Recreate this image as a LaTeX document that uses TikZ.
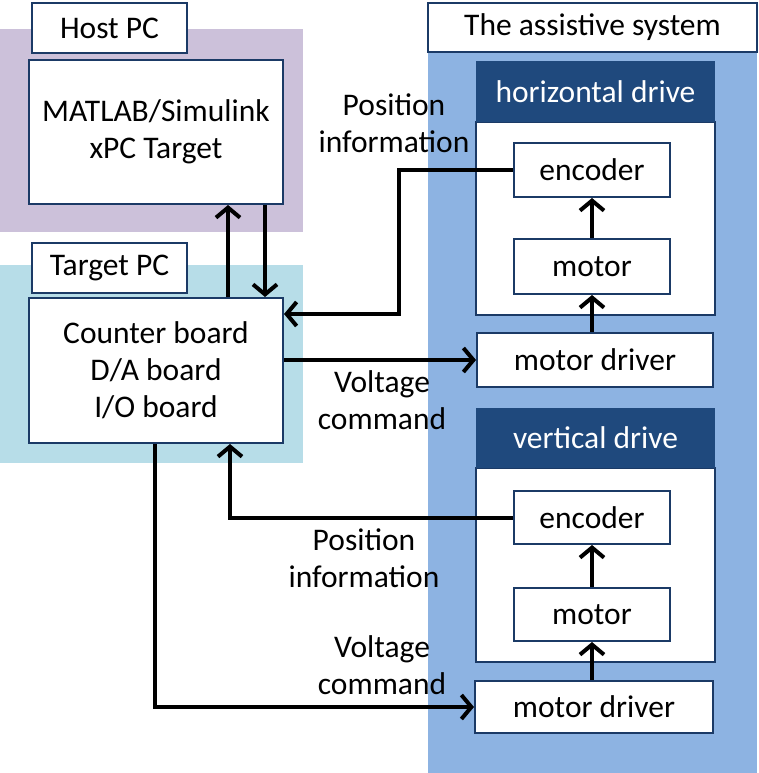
\documentclass[tikz,border=0pt]{standalone}
\usepackage{fontspec}
\setmainfont{Carlito}
\usetikzlibrary{arrows.meta}
\definecolor{lav}{HTML}{CCC1DA}
\definecolor{cyanbg}{HTML}{B7DDE8}
\definecolor{bluebg}{HTML}{8DB3E2}
\definecolor{navy}{HTML}{1F497D}
\definecolor{edge}{HTML}{1B3A66}
\begin{document}
\begin{tikzpicture}[x=1pt,y=-1pt,
  box/.style={draw=edge,line width=2pt,fill=white,inner sep=0pt,align=center,font=\fontsize{31.5}{37}\selectfont},
  hdr/.style={fill=navy,inner sep=0pt,text=white,font=\fontsize{31.5}{37}\selectfont},
  lbl/.style={align=center,inner sep=0pt,font=\fontsize{31.5}{37}\selectfont},
  arr/.style={line width=4pt,-{Straight Barb[length=10pt,width=24pt]}},
  ln/.style={line width=4pt}]
\useasboundingbox (0,0) rectangle (759,773);
% regions
\fill[lav] (0,29) rectangle (303,232);
\fill[cyanbg] (0,265) rectangle (303,463);
\fill[bluebg] (428,52) rectangle (757,773);
% left side
\node[box,minimum width=155pt,minimum height=50pt] (hostlbl) at (109.5,28) {Host PC};
\node[box,minimum width=254pt,minimum height=144pt] (matlab) at (156,132) {MATLAB/Simulink\\xPC Target};
\node[box,minimum width=155pt,minimum height=50pt] (targetlbl) at (109.5,268) {Target PC};
\node[box,minimum width=254pt,minimum height=145pt] (counter) at (156,370.5) {Counter board\\D/A board\\I/O board};
% assistive system
\node[box,minimum width=329pt,minimum height=49pt] (asslbl) at (592.5,27.5) {The assistive system};
% horizontal drive
\node[box,minimum width=239pt,minimum height=193pt] (hbody) at (595.5,218.5) {};
\node[hdr,minimum width=239pt,minimum height=61pt] (hhdr) at (595.5,91.5) {horizontal drive};
\node[box,minimum width=156pt,minimum height=54pt] (henc) at (592,170) {encoder};
\node[box,minimum width=156pt,minimum height=55pt] (hmot) at (592,266.5) {motor};
\node[box,minimum width=236pt,minimum height=54pt] (hmd) at (595,360) {motor driver};
% vertical drive
\node[box,minimum width=239pt,minimum height=194pt] (vbody) at (595.5,565) {};
\node[hdr,minimum width=239pt,minimum height=60pt] (vhdr) at (595.5,438) {vertical drive};
\node[box,minimum width=156pt,minimum height=53pt] (venc) at (592,517.5) {encoder};
\node[box,minimum width=156pt,minimum height=53pt] (vmot) at (592,614.5) {motor};
\node[box,minimum width=238pt,minimum height=52pt] (vmd) at (594,707) {motor driver};
% labels
\node[lbl] (pos1) at (394,123) {Position\\information};
\node[lbl] (volt1) at (382,400) {Voltage\\command};
\node[lbl] (pos2) at (364,558) {Position\\information};
\node[lbl] (volt2) at (382,665) {Voltage\\command};
% connectors
\coordinate (c1) at (399,314);
\draw[arr] (henc.west) -| (c1) -- (counter.east |- c1);
\draw[arr] (counter.east |- hmd.west) -- (hmd.west);
\draw[arr] (venc.west) -| ([xshift=74pt]counter.south);
\draw[arr] ([xshift=-1pt]counter.south) |- (vmd.west);
\draw[arr] ([xshift=72pt]counter.north) -- ([xshift=72pt]matlab.south);
\draw[arr] ([xshift=109pt]matlab.south) -- ([xshift=109pt]counter.north);
\draw[arr] (hmot.south |- hmd.north) -- (hmot.south);
\draw[arr] (hmot.north) -- (henc.south);
\draw[arr] (vmot.south |- vmd.north) -- (vmot.south);
\draw[arr] (vmot.north) -- (venc.south);
\end{tikzpicture}
\end{document}
